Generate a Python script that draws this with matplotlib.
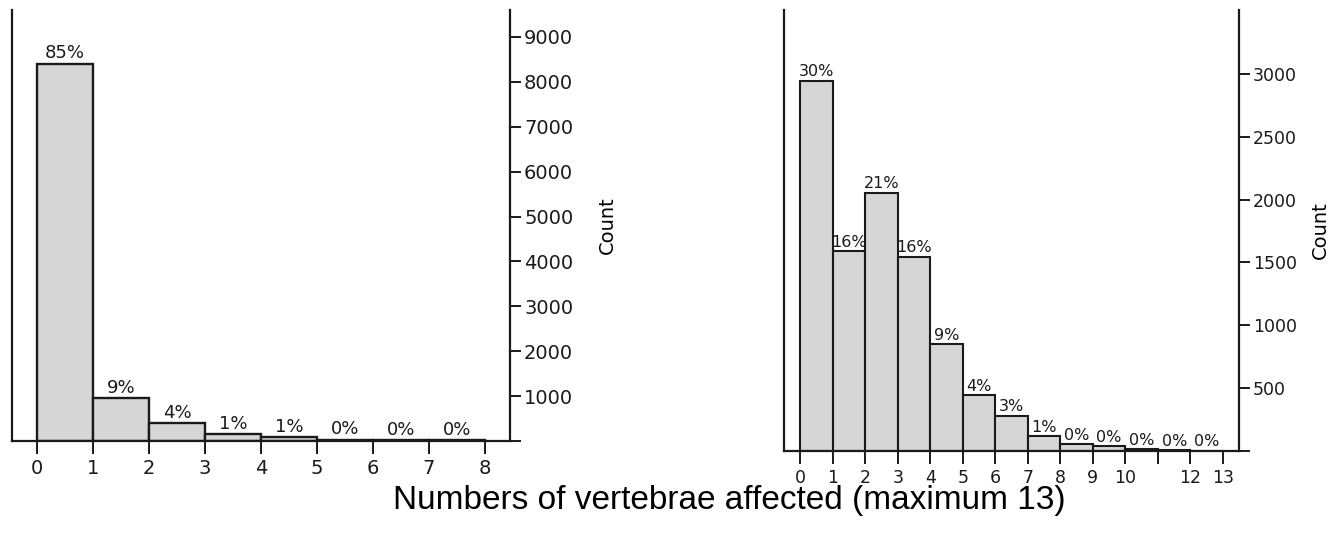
import matplotlib
matplotlib.use('Agg')
import matplotlib.pyplot as plt

# ─────────── data ───────────
left_edges  = [0, 1, 2, 3, 4, 5, 6, 7]
left_counts = [8400, 960, 400, 150, 90, 30, 20, 15]
left_pct    = ['85%', '9%', '4%', '1%', '1%', '0%', '0%', '0%']
left_yticks = [0, 1000, 2000, 3000, 4000, 5000, 6000, 7000, 8000, 9000]

right_edges  = [0, 1, 2, 3, 4, 5, 6, 7, 8, 9, 10, 11, 12]
right_counts = [2945, 1590, 2055, 1545, 850, 445, 280, 120, 55, 38, 12, 6, 3]
right_pct    = ['30%', '16%', '21%', '16%', '9%', '4%', '3%', '1%', '0%', '0%', '0%', '0%', '0%']
right_yticks = [0, 500, 1000, 1500, 2000, 2500, 3000]
right_xticks = list(range(14))
right_xlabels = [str(i) if i != 11 else '' for i in right_xticks]

XLABEL = 'Numbers of vertebrae affected (maximum 13)'

FILL = '#d6d6d6'
INK = '#1a1a1a'


def style_axes(ax):
    ax.spines['top'].set_visible(False)
    for s in ('left', 'right', 'bottom'):
        ax.spines[s].set_linewidth(1.6)
        ax.spines[s].set_color(INK)
    ax.yaxis.tick_right()
    ax.yaxis.set_label_position('right')
    ax.tick_params(axis='y', direction='out', length=8, width=1.4, colors=INK, pad=2)
    ax.tick_params(axis='x', direction='out', length=9, width=1.4, colors=INK, pad=4)


fig = plt.figure(figsize=(13.39, 5.46), dpi=100)

# ─────────── left panel ───────────
ax1 = fig.add_axes([0.009, 0.192, 0.372, 0.790])
bars = ax1.bar(left_edges, left_counts, width=1, align='edge',
               color=FILL, edgecolor=INK, linewidth=1.7)
ax1.bar_label(bars, labels=left_pct, padding=1, fontsize=13, color=INK)
ax1.set_xlim(-0.45, 8.45)
ax1.set_ylim(0, 9600)
ax1.set_xticks(range(9))
ax1.set_yticks(left_yticks)
ax1.set_yticklabels([''] + [str(v) for v in left_yticks[1:]])
style_axes(ax1)
ax1.tick_params(axis='both', labelsize=14)
ax1.set_ylabel('Count', fontsize=14, rotation=90, labelpad=18)

# ─────────── right panel ───────────
ax2 = fig.add_axes([0.5855, 0.174, 0.340, 0.808])
bars = ax2.bar(right_edges, right_counts, width=1, align='edge',
               color=FILL, edgecolor=INK, linewidth=1.5)
ax2.bar_label(bars, labels=right_pct, padding=1, fontsize=11.5, color=INK)
ax2.set_xlim(-0.5, 13.5)
ax2.set_ylim(0, 3510)
ax2.set_xticks(right_xticks)
ax2.set_xticklabels(right_xlabels)
ax2.set_yticks(right_yticks)
ax2.set_yticklabels([''] + [str(v) for v in right_yticks[1:]])
style_axes(ax2)
ax2.tick_params(axis='both', labelsize=12.5)
ax2.set_ylabel('Count', fontsize=14, rotation=90, labelpad=10)

fig.text(0.5445, 0.084, XLABEL, ha='center', va='center',
         fontsize=24, family=['Liberation Sans', 'DejaVu Sans'], color='black')

fig.savefig('out.png', dpi=100, facecolor='white')
